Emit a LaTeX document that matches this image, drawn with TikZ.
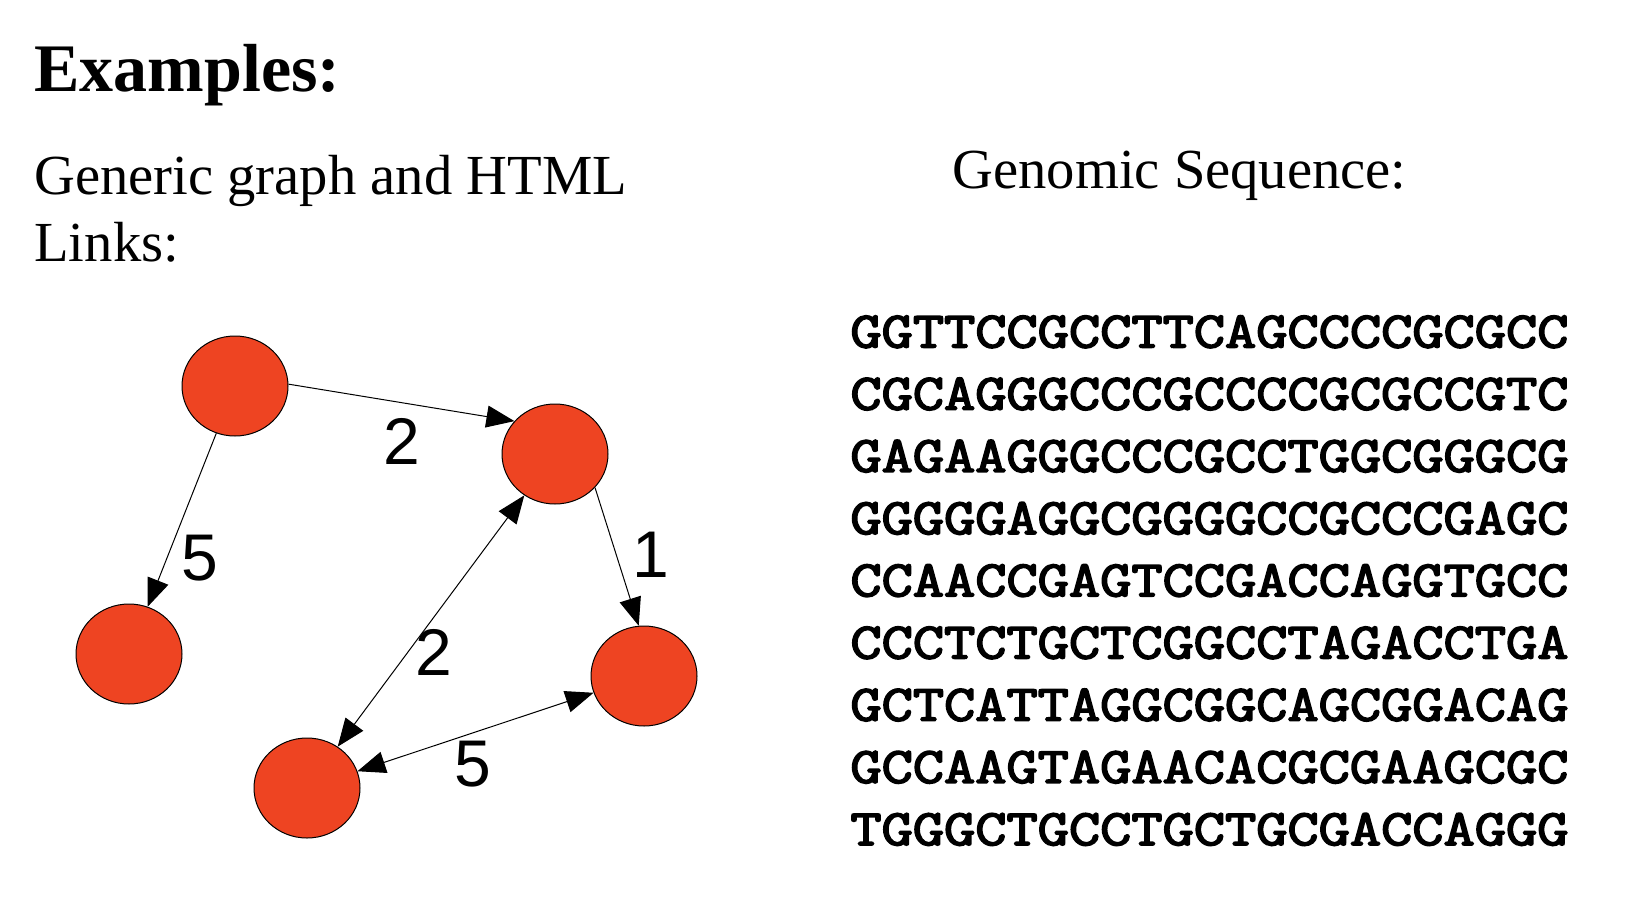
\documentclass[tikz,border=0pt]{standalone}
\usepackage{fontspec}
\setmainfont{Liberation Serif}
\newfontfamily\labfont{Liberation Sans}
\newfontfamily\seqfont[FakeBold=3]{Latin Modern Mono}
\usetikzlibrary{arrows.meta,shapes.geometric}
\definecolor{nodered}{RGB}{238,68,34}
\newcommand{\seqline}[1]{\scalebox{1.184}[1]{\seqfont\fontsize{25.6}{30}\selectfont #1}}
\begin{document}
\begin{tikzpicture}[x=0.5pt,y=-0.5pt,
  vert/.style={ellipse,draw=black,line width=0.5pt,fill=nodered,minimum width=53pt,minimum height=50pt,inner sep=0pt},
  edge/.style={line width=0.5pt,-{Triangle[length=14pt,width=11pt]}},
  bedge/.style={line width=0.5pt,{Triangle[length=14pt,width=11pt]}-{Triangle[length=14pt,width=11pt]}},
  wlab/.style={font=\labfont\fontsize{33}{36}\selectfont,inner sep=0pt},
  txt/.style={anchor=base west,inner sep=0pt},
  seq/.style={anchor=base west,inner sep=0pt}]
\useasboundingbox (0,0) rectangle (1636,915);
\node[txt,font=\bfseries\fontsize{34}{40}\selectfont] (title) at (34,91) {Examples:};
\node[txt,font=\fontsize{28.3}{34}\selectfont] (gen1) at (34,194) {Generic graph and HTML};
\node[txt,font=\fontsize{28.3}{34}\selectfont] (gen2) at (34,261) {Links:};
\node[txt,font=\fontsize{28.3}{34}\selectfont] (genom) at (952,188) {Genomic Sequence:};
\node[seq] (s1) at (850,347.5) {\seqline{GGTTCCGCCTTCAGCCCCGCGCC}};
\node[seq] (s2) at (850,409.7) {\seqline{CGCAGGGCCCGCCCCGCGCCGTC}};
\node[seq] (s3) at (850,471.9) {\seqline{GAGAAGGGCCCGCCTGGCGGGCG}};
\node[seq] (s4) at (850,534.1) {\seqline{GGGGGAGGCGGGGCCGCCCGAGC}};
\node[seq] (s5) at (850,596.3) {\seqline{CCAACCGAGTCCGACCAGGTGCC}};
\node[seq] (s6) at (850,658.5) {\seqline{CCCTCTGCTCGGCCTAGACCTGA}};
\node[seq] (s7) at (850,720.7) {\seqline{GCTCATTAGGCGGCAGCGGACAG}};
\node[seq] (s8) at (850,782.9) {\seqline{GCCAAGTAGAACACGCGAAGCGC}};
\node[seq] (s9) at (850,845.1) {\seqline{TGGGCTGCCTGCTGCGACCAGGG}};
\node[vert] (A) at (235,386) {};
\node[vert] (B) at (555,454) {};
\node[vert] (C) at (129,654) {};
\node[vert] (D) at (644,676) {};
\node[vert] (E) at (307,788) {};
\draw[edge] (A.2) -- (B.141);
\draw[edge] (A) -- (C);
\draw[edge] (B.-40) -- (D.96);
\draw[bedge] (B) -- (E);
\draw[bedge] (E) -- (D);
\node[wlab] (l1) at (402,441) {2};
\node[wlab] (l2) at (200,558) {5};
\node[wlab] (l3) at (651,555) {1};
\node[wlab] (l4) at (434,652) {2};
\node[wlab] (l5) at (473,764) {5};
\end{tikzpicture}
\end{document}
